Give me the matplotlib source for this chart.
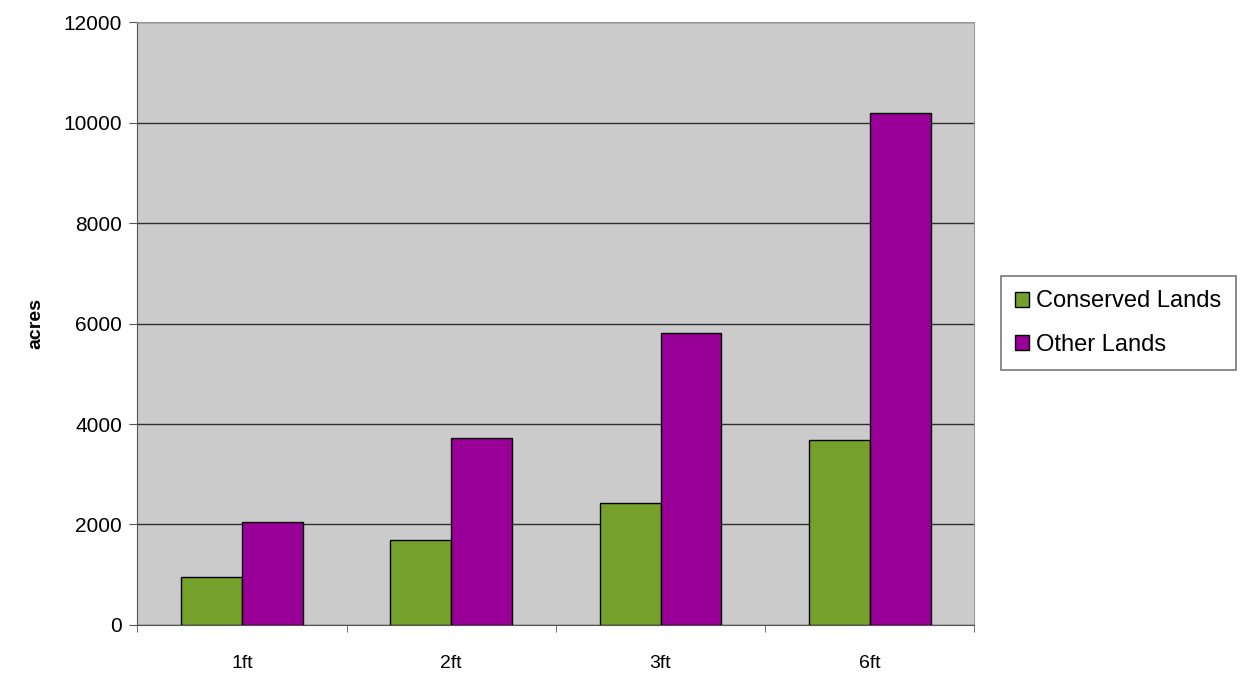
import numpy as np
import matplotlib.pyplot as plt

# Data
categories = ['1ft', '2ft', '3ft', '6ft']
conserved = [950, 1700, 2420, 3680]
other = [2050, 3720, 5820, 10200]

plt.rcParams['font.family'] = ['Liberation Sans', 'DejaVu Sans']

fig = plt.figure(figsize=(12.59, 6.77), dpi=100)
ax = fig.add_axes([0.109, 0.077, 0.665, 0.890])
ax.set_facecolor('#cbcbcb')

x = np.arange(len(categories))
w = 0.29
ax.bar(x - w / 2, conserved, w, color='#76a02c', edgecolor='black', linewidth=1,
       label='Conserved Lands', zorder=3)
ax.bar(x + w / 2, other, w, color='#980098', edgecolor='black', linewidth=1,
       label='Other Lands', zorder=3)

ax.set_xlim(-0.5, len(categories) - 0.5)
ax.set_ylim(0, 12000)
ax.set_yticks(np.arange(0, 12001, 2000))
ax.yaxis.grid(True, color='#303030', linewidth=1, zorder=1)
ax.set_xticks(x)
ax.set_xticklabels(categories, fontsize=14)
ax.set_xticks(np.arange(-0.5, len(categories)), minor=True)
ax.tick_params(axis='x', which='major', length=0, pad=22)
ax.tick_params(axis='x', which='minor', length=5, color='#555555')
ax.tick_params(axis='y', labelsize=15, length=6, color='#555555', pad=5)
ax.set_ylabel('acres', fontsize=14, fontweight='bold', labelpad=14)

for s in ['top', 'right']:
    ax.spines[s].set_color('#9a9a9a')
for s in ['left', 'bottom']:
    ax.spines[s].set_color('#555555')

leg = fig.legend(loc='upper left', bbox_to_anchor=(0.795, 0.592), fontsize=17,
                 frameon=True, fancybox=False, edgecolor='#555555',
                 handlelength=0.6, handleheight=0.6, handletextpad=0.3,
                 labelspacing=0.9, borderpad=0.6, borderaxespad=0)
leg.get_frame().set_linewidth(1.2)

fig.savefig('out.png', dpi=100)
